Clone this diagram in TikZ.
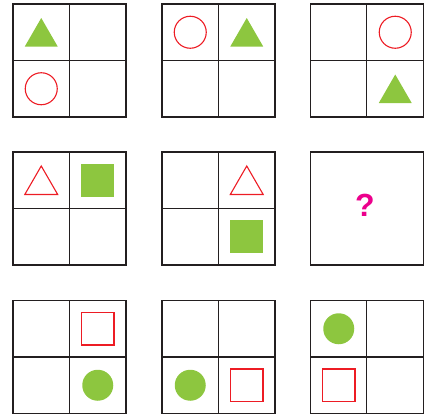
\documentclass[tikz,border=0pt]{standalone}
\usepackage{fontspec}
\setmainfont{Liberation Sans}
\usetikzlibrary{shapes.geometric}
\definecolor{leaf}{HTML}{8DC63F}
\definecolor{redline}{HTML}{ED1C24}
\definecolor{qmark}{HTML}{EC008C}
\definecolor{gridc}{HTML}{231F20}
\begin{document}
\begin{tikzpicture}[x=1pt,y=-1pt,
  board/.style={draw=gridc,line width=1.3pt,rectangle,inner sep=0pt,outer sep=0pt,minimum size=113pt},
  divider/.style={draw=gridc,line width=1.3pt},
  shp/.style={inner sep=0pt,outer sep=0pt},
  fcirc/.style={shp,circle,fill=leaf,minimum size=31pt},
  ocirc/.style={shp,circle,draw=redline,line width=1.1pt,minimum size=32pt},
  fsq/.style={shp,rectangle,fill=leaf,minimum size=33pt},
  osq/.style={shp,rectangle,draw=redline,line width=1.1pt,minimum size=32.5pt},
  ftri/.style={shp,regular polygon,regular polygon sides=3,fill=leaf,minimum size=38pt},
  otri/.style={shp,regular polygon,regular polygon sides=3,draw=redline,line width=1.1pt,minimum size=38pt},
  qtext/.style={text=qmark,font=\fontsize{32}{32}\selectfont\bfseries}
]
\useasboundingbox (0,0) rectangle (424,415);
% boards
\foreach \n/\x/\y in {g1/69.5/60.5, g2/218.5/60.5, g3/366.8/60.5,
                      g4/69.5/208.5, g5/218.5/208.5, g6/366.8/208.5,
                      g7/69.5/357, g8/218.5/357, g9/366.8/357}{
  \node[board] (\n) at (\x,\y) {};
}
\foreach \n in {g1,g2,g3,g4,g5,g7,g8,g9}{
  \draw[divider] (\n.north) -- (\n.south);
  \draw[divider] (\n.west) -- (\n.east);
}
% row 1
\node[ftri] (t1) at (41.25,37) {};
\node[ocirc] (c1) at (41.25,88.75) {};
\node[ocirc] (c2) at (190.25,32.25) {};
\node[ftri] (t2) at (246.75,37) {};
\node[ocirc] (c3) at (395.25,32.25) {};
\node[ftri] (t3) at (395.25,93.5) {};
% row 2
\node[otri] (t4) at (41.25,185) {};
\node[fsq] (s4) at (97.75,180.25) {};
\node[otri] (t5) at (246.75,185) {};
\node[fsq] (s5) at (246.75,236.75) {};
\node[qtext] (q) at (365,205) {?};
% row 3
\node[osq] (s7) at (97.75,328.75) {};
\node[fcirc] (c7) at (97.75,385.25) {};
\node[fcirc] (c8) at (190.25,385.25) {};
\node[osq] (s8) at (246.75,385.25) {};
\node[fcirc] (c9) at (338.75,328.75) {};
\node[osq] (s9) at (338.75,385.25) {};
\end{tikzpicture}
\end{document}
